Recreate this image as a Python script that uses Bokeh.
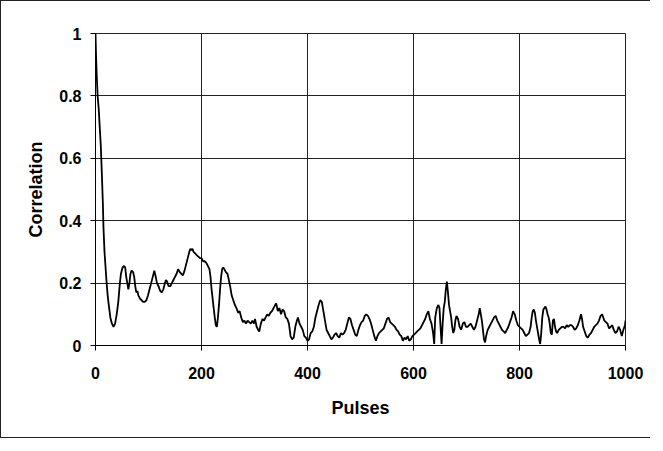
from bokeh.plotting import figure
from bokeh.models import Range1d, FixedTicker
from bokeh.embed import file_html
from bokeh.resources import INLINE

pulses = [0, 1, 2, 4, 6, 8, 10, 12, 14, 15, 17, 19, 21, 23, 25, 28, 31, 34, 37, 40,
          43, 46, 48, 51, 54, 56, 58, 60, 62, 64, 66, 68, 71, 73, 75, 77, 79, 81, 84, 87,
          90, 93, 96, 99, 102, 105, 108, 111, 113, 116, 119, 122, 125, 128, 131, 133, 135, 138, 141, 144,
          147, 150, 153, 156, 159, 162, 165, 168, 171, 174, 177, 179, 181, 183, 185, 188, 191, 194, 197, 200,
          203, 206, 209, 212, 215, 217, 219, 221, 223, 225, 227, 229, 231, 233, 235, 237, 239, 241, 243, 246,
          249, 251, 254, 257, 260, 263, 266, 269, 272, 275, 278, 281, 284, 287, 290, 293, 296, 299, 301, 304,
          307, 309, 312, 315, 318, 321, 324, 327, 330, 333, 336, 339, 341, 344, 347, 350, 353, 356, 359, 362,
          365, 368, 371, 374, 377, 380, 382, 385, 388, 391, 394, 397, 400, 403, 406, 409, 412, 415, 418, 421,
          424, 427, 430, 433, 436, 439, 442, 445, 448, 451, 454, 457, 460, 463, 466, 469, 472, 475, 478, 481,
          484, 487, 490, 493, 496, 499, 502, 505, 508, 511, 514, 517, 520, 523, 526, 529, 532, 535, 538, 541,
          544, 547, 550, 553, 556, 559, 562, 565, 568, 571, 574, 577, 580, 583, 586, 589, 592, 595, 598, 601,
          604, 607, 610, 613, 616, 619, 622, 625, 628, 631, 634, 637, 639, 641, 644, 647, 649, 651, 653, 655,
          657, 659, 661, 663, 665, 667, 669, 671, 673, 675, 677, 679, 681, 684, 687, 690, 693, 696, 699, 702,
          705, 708, 711, 714, 717, 720, 723, 725, 727, 729, 731, 733, 735, 737, 740, 743, 746, 749, 752, 755,
          758, 761, 764, 767, 770, 773, 776, 779, 782, 785, 788, 791, 794, 797, 800, 803, 806, 809, 812, 815,
          818, 821, 823, 825, 827, 829, 831, 833, 835, 837, 839, 841, 843, 845, 847, 849, 851, 853, 855, 857,
          859, 861, 863, 865, 867, 869, 871, 874, 877, 880, 883, 886, 889, 892, 895, 898, 901, 904, 907, 910,
          913, 916, 918, 920, 923, 926, 929, 932, 935, 938, 941, 944, 947, 950, 953, 956, 958, 960, 963, 966,
          969, 972, 975, 978, 981, 984, 987, 990, 993, 996, 999, 1000]

correlation = [1.0, 0.93, 0.88, 0.80, 0.76, 0.70, 0.64, 0.55, 0.45, 0.38, 0.30, 0.25, 0.20, 0.16, 0.13, 0.09, 0.07, 0.06, 0.07, 0.10,
               0.14, 0.20, 0.23, 0.25, 0.255, 0.25, 0.22, 0.20, 0.18, 0.20, 0.23, 0.24, 0.235, 0.22, 0.19, 0.17, 0.175, 0.16, 0.15, 0.145,
               0.14, 0.14, 0.145, 0.16, 0.18, 0.20, 0.22, 0.24, 0.225, 0.20, 0.19, 0.175, 0.17, 0.18, 0.20, 0.21, 0.205, 0.19, 0.19, 0.20,
               0.21, 0.22, 0.23, 0.245, 0.235, 0.23, 0.225, 0.24, 0.26, 0.28, 0.30, 0.31, 0.305, 0.31, 0.30, 0.295, 0.29, 0.285, 0.28, 0.28,
               0.27, 0.27, 0.265, 0.255, 0.245, 0.22, 0.18, 0.15, 0.12, 0.09, 0.065, 0.06, 0.09, 0.13, 0.18, 0.22, 0.245, 0.25, 0.245, 0.235,
               0.23, 0.215, 0.19, 0.16, 0.145, 0.13, 0.12, 0.105, 0.11, 0.09, 0.075, 0.08, 0.07, 0.08, 0.075, 0.07, 0.08, 0.07, 0.085, 0.06,
               0.05, 0.045, 0.07, 0.085, 0.08, 0.09, 0.10, 0.095, 0.105, 0.11, 0.12, 0.13, 0.135, 0.11, 0.12, 0.10, 0.115, 0.11, 0.09, 0.085,
               0.07, 0.03, 0.02, 0.025, 0.06, 0.08, 0.09, 0.07, 0.06, 0.05, 0.03, 0.025, 0.015, 0.02, 0.04, 0.045, 0.06, 0.09, 0.11, 0.13,
               0.145, 0.14, 0.11, 0.08, 0.05, 0.04, 0.03, 0.02, 0.025, 0.035, 0.04, 0.03, 0.025, 0.04, 0.035, 0.04, 0.05, 0.07, 0.09, 0.085,
               0.065, 0.05, 0.035, 0.03, 0.05, 0.065, 0.075, 0.08, 0.095, 0.10, 0.095, 0.085, 0.07, 0.05, 0.03, 0.015, 0.03, 0.04, 0.045, 0.05,
               0.055, 0.07, 0.085, 0.09, 0.075, 0.07, 0.065, 0.06, 0.05, 0.045, 0.035, 0.03, 0.015, 0.025, 0.02, 0.03, 0.015, 0.02, 0.03, 0.035,
               0.04, 0.045, 0.05, 0.055, 0.065, 0.075, 0.085, 0.10, 0.11, 0.085, 0.07, 0.04, 0.005, 0.09, 0.12, 0.13, 0.12, 0.06, 0.005, 0.07,
               0.12, 0.14, 0.18, 0.205, 0.17, 0.13, 0.11, 0.09, 0.06, 0.04, 0.05, 0.08, 0.095, 0.085, 0.06, 0.05, 0.07, 0.075, 0.06, 0.06,
               0.065, 0.07, 0.06, 0.05, 0.06, 0.08, 0.10, 0.12, 0.10, 0.08, 0.05, 0.02, 0.01, 0.03, 0.05, 0.06, 0.07, 0.08, 0.09, 0.095,
               0.08, 0.07, 0.06, 0.05, 0.045, 0.04, 0.05, 0.06, 0.075, 0.09, 0.11, 0.10, 0.08, 0.065, 0.06, 0.055, 0.05, 0.04, 0.03, 0.035,
               0.04, 0.06, 0.09, 0.11, 0.115, 0.105, 0.08, 0.06, 0.04, 0.02, 0.005, 0.04, 0.09, 0.115, 0.12, 0.125, 0.115, 0.10, 0.09, 0.07,
               0.04, 0.035, 0.08, 0.085, 0.06, 0.045, 0.04, 0.05, 0.055, 0.06, 0.06, 0.055, 0.065, 0.06, 0.065, 0.065, 0.06, 0.05, 0.055, 0.065,
               0.08, 0.10, 0.085, 0.06, 0.045, 0.03, 0.025, 0.035, 0.04, 0.05, 0.06, 0.065, 0.07, 0.08, 0.095, 0.10, 0.09, 0.08, 0.075, 0.07,
               0.055, 0.06, 0.065, 0.05, 0.04, 0.045, 0.06, 0.05, 0.03, 0.05, 0.065, 0.08]

x_ticks = [0, 200, 400, 600, 800, 1000]
x_tick_labels = ["0", "200", "400", "600", "800", "1000"]
y_ticks = [0, 0.2, 0.4, 0.6, 0.8, 1.0]
y_tick_labels = ["0", "0.2", "0.4", "0.6", "0.8", "1"]

FONT = "Liberation Sans"

p = figure(width=650, height=438, output_backend="svg", toolbar_location=None,
           x_range=Range1d(0, 1000), y_range=Range1d(0, 1),
           min_border_left=94, min_border_right=26, min_border_top=32, min_border_bottom=94)
p.styles = {"border-left": "1px solid #222", "border-top": "1px solid #222",
            "border-bottom": "1px solid #222", "box-sizing": "border-box"}

p.line(pulses, correlation, line_color="black", line_width=1.8)

p.outline_line_color = "#222222"
p.outline_line_width = 1

for ax, ticks, labels in ((p.xaxis[0], x_ticks, x_tick_labels), (p.yaxis[0], y_ticks, y_tick_labels)):
    ax.ticker = FixedTicker(ticks=ticks)
    ax.major_label_overrides = {t: l for t, l in zip(ticks, labels)}
    ax.major_label_text_font = FONT
    ax.major_label_text_font_style = "bold"
    ax.major_label_text_font_size = "16px"
    ax.major_label_text_color = "black"
    ax.axis_label_text_font = FONT
    ax.axis_label_text_font_style = "bold"
    ax.axis_label_text_font_size = "18px"
    ax.axis_label_text_color = "black"
    ax.axis_line_color = "black"
    ax.major_tick_line_color = "black"
    ax.major_tick_out = 5
    ax.major_tick_in = 0
    ax.minor_tick_line_color = None

p.xaxis.axis_label = "Pulses"
p.yaxis.axis_label = "Correlation"
p.xaxis.major_label_standoff = 16
p.xaxis.axis_label_standoff = 16
p.yaxis.major_label_standoff = 9
p.yaxis.axis_label_standoff = 10

p.xgrid.ticker = FixedTicker(ticks=x_ticks)
p.ygrid.ticker = FixedTicker(ticks=y_ticks)
p.grid.grid_line_color = "#222222"
p.grid.grid_line_width = 1
p.grid.grid_line_alpha = 1.0

p.background_fill_color = "white"
p.border_fill_color = "white"

open("out.html", "w").write(file_html(p, INLINE))
